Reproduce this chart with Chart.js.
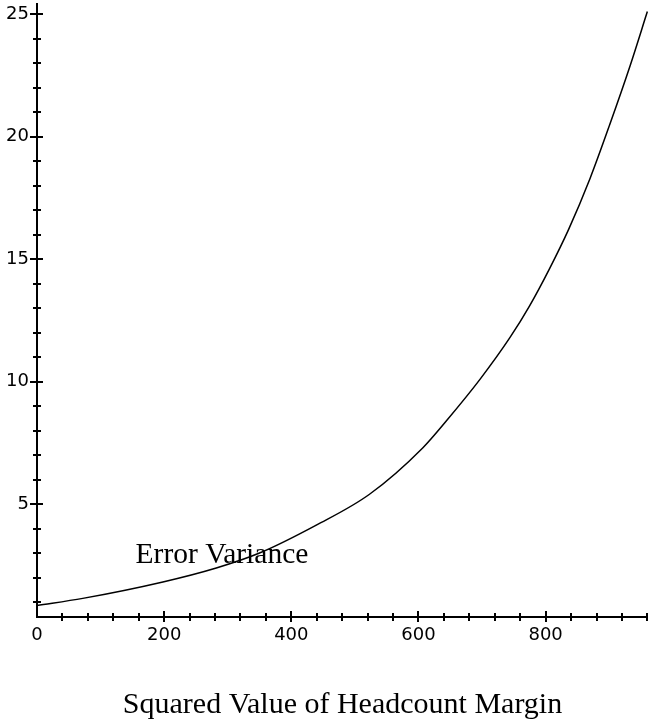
<!DOCTYPE html>
<html>
<head>
<meta charset="utf-8">
<script src="https://cdn.jsdelivr.net/npm/chart.js@4"></script>
<style>
  html, body { margin: 0; padding: 0; background: #fff; }
  #wrap { width: 648px; height: 723px; position: relative; }
</style>
</head>
<body>
<div id="wrap"><canvas id="chart"></canvas></div>
<script>
// values
const headcountMargin = [0, 72, 198, 282, 350, 440, 523, 607, 644, 697, 744, 775, 806, 836, 870, 901, 933, 960];
const errorVariance = [0.86, 1.15, 1.82, 2.39, 3.0, 4.15, 5.4, 7.3, 8.4, 10.1, 11.8, 13.1, 14.6, 16.2, 18.3, 20.5, 22.9, 25.1];

const xTickValues = [0, 200, 400, 600, 800];
const yTickValues = [5, 10, 15, 20, 25];
const xRange = [0, 961];
const yRange = [0.39, 25.41];
const xMajorStep = 200, xMinorStep = 40;
const yMajorStep = 5, yMinorStep = 1;

const curveLabel = 'Error Variance';
const curveLabelAt = [155, 2.6];
const xTitle = 'Squared Value of Headcount Margin';

const points = headcountMargin.map((x, i) => ({ x: x, y: errorVariance[i] }));

// tick marks cross the axis line, chart.js only draws them on one side
const crossTicks = {
    id: 'crossTicks',
    afterDraw(chart) {
        const ctx = chart.ctx;
        const xs = chart.scales.x, ys = chart.scales.y;
        const ax = xs.left, ay = ys.bottom;
        ctx.save();
        ctx.strokeStyle = '#000';
        ctx.lineWidth = 2;
        ctx.beginPath();
        for (let v = yMinorStep; v <= yRange[1]; v += yMinorStep) {
            const p = Math.round(ys.getPixelForValue(v));
            const big = v % yMajorStep === 0;
            ctx.moveTo(ax - (big ? 7 : 4), p);
            ctx.lineTo(ax + (big ? 6 : 4), p);
        }
        for (let v = xMinorStep; v <= xRange[1]; v += xMinorStep) {
            const p = Math.round(xs.getPixelForValue(v));
            const big = v % xMajorStep === 0;
            ctx.moveTo(p, ay - (big ? 6 : 4));
            ctx.lineTo(p, ay + (big ? 5 : 4));
        }
        ctx.stroke();

        ctx.fillStyle = '#000';
        ctx.font = '29.5px "Liberation Serif", "Times New Roman", serif';
        ctx.textAlign = 'left';
        ctx.textBaseline = 'alphabetic';
        ctx.fillText(curveLabel, xs.getPixelForValue(curveLabelAt[0]), ys.getPixelForValue(curveLabelAt[1]));
        ctx.restore();
    }
};

function noPadding(scale) {
    scale.paddingTop = 0;
    scale.paddingBottom = 0;
    scale.paddingLeft = 0;
    scale.paddingRight = 0;
}

new Chart(document.getElementById('chart'), {
    type: 'line',
    data: {
        datasets: [{
            data: points,
            borderColor: '#000',
            borderWidth: 1.5,
            pointRadius: 0,
            cubicInterpolationMode: 'monotone',
            fill: false
        }]
    },
    options: {
        responsive: true,
        maintainAspectRatio: false,
        animation: false,
        layout: { padding: { top: 4, left: 0, right: 0, bottom: 0 } },
        plugins: { legend: { display: false }, tooltip: { enabled: false } },
        scales: {
            x: {
                type: 'linear',
                min: xRange[0],
                max: xRange[1],
                grid: { drawOnChartArea: false, drawTicks: false },
                border: { color: '#000', width: 2 },
                ticks: {
                    autoSkip: false,
                    maxRotation: 0,
                    padding: 8,
                    color: '#000',
                    font: { family: '"DejaVu Sans", sans-serif', size: 18 }
                },
                afterBuildTicks(scale) { scale.ticks = xTickValues.map(v => ({ value: v })); },
                title: {
                    display: true,
                    text: xTitle,
                    color: '#000',
                    padding: { top: 0, bottom: 0 },
                    font: { family: '"Liberation Serif", "Times New Roman", serif', size: 30 }
                },
                afterFit(scale) { scale.height = 106; noPadding(scale); }
            },
            y: {
                type: 'linear',
                min: yRange[0],
                max: yRange[1],
                grid: { drawOnChartArea: false, drawTicks: false },
                border: { color: '#000', width: 2 },
                ticks: {
                    autoSkip: false,
                    padding: 8,
                    color: '#000',
                    font: { family: '"DejaVu Sans", sans-serif', size: 18 }
                },
                afterBuildTicks(scale) { scale.ticks = yTickValues.map(v => ({ value: v })); },
                afterFit(scale) { scale.width = 37; noPadding(scale); }
            }
        }
    },
    plugins: [crossTicks]
});
</script>
</body>
</html>
